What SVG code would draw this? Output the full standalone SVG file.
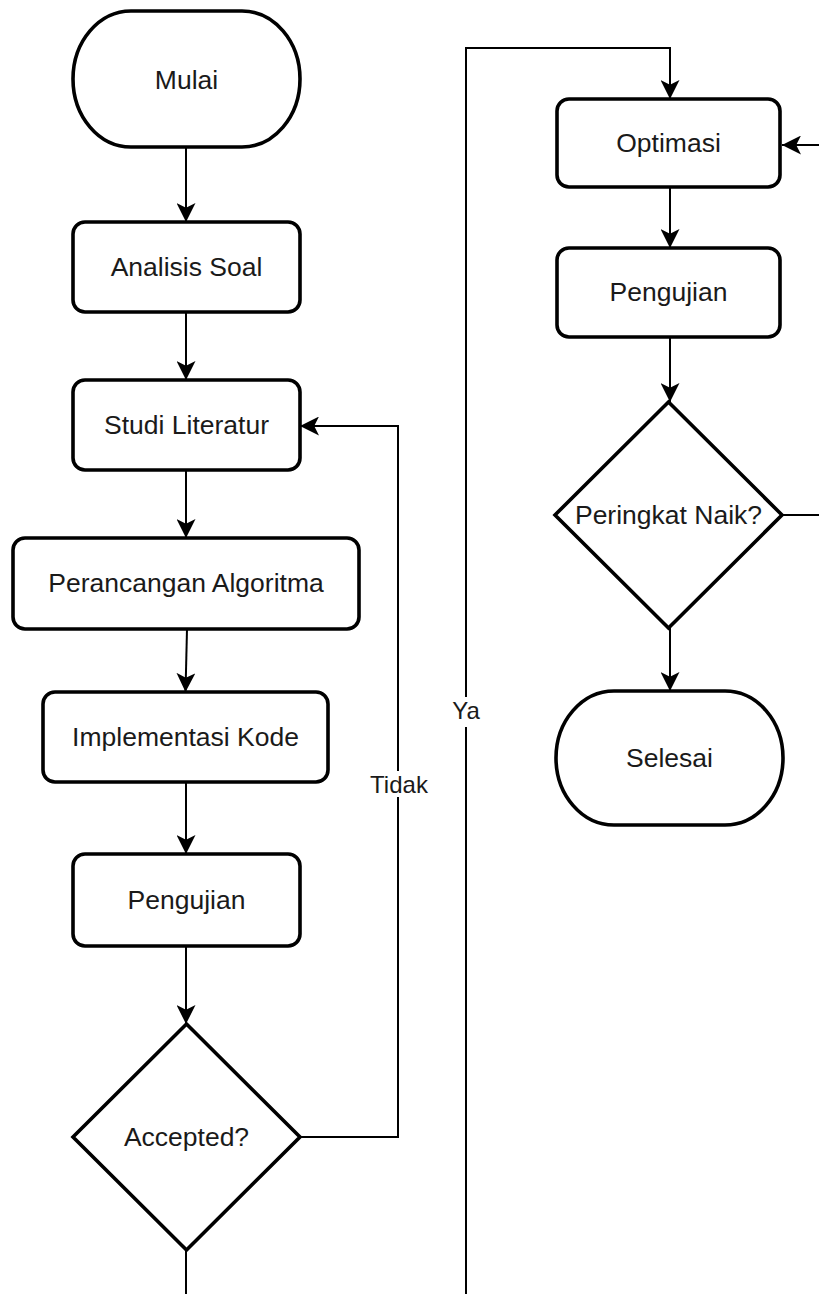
<svg xmlns="http://www.w3.org/2000/svg" width="819" height="1294" viewBox="0 0 819 1294">
  <style>
    .shape { fill: #ffffff; stroke: #000000; stroke-width: 3.6; }
    .edge { fill: none; stroke: #000000; stroke-width: 2; }
    .label { font-family: "Liberation Sans", Arial, sans-serif; font-size: 26.5px; fill: #1a1a1a; text-anchor: middle; }
    .elabel { font-family: "Liberation Sans", Arial, sans-serif; font-size: 24px; fill: #1a1a1a; text-anchor: middle; }
  </style>
  <defs>
    <marker id="arrow" markerUnits="userSpaceOnUse" viewBox="0 0 19 19" refX="19" refY="9.5" markerWidth="19" markerHeight="19" orient="auto">
      <path d="M0,0 L19,9.5 L0,19 L4.8,9.5 Z" fill="#000000"/>
    </marker>
  </defs>
  <rect width="819" height="1294" fill="#ffffff"/>

  <!-- connectors -->
  <g id="connectors">
    <path class="edge" d="M186,148 V222" marker-end="url(#arrow)"/>
    <path class="edge" d="M186,312 V380" marker-end="url(#arrow)"/>
    <path class="edge" d="M186,470 V538" marker-end="url(#arrow)"/>
    <path class="edge" d="M187,629 L185.5,692" marker-end="url(#arrow)"/>
    <path class="edge" d="M186,782 V854" marker-end="url(#arrow)"/>
    <path class="edge" d="M186,946 V1024" marker-end="url(#arrow)"/>
    <!-- Tidak: back to Studi Literatur -->
    <path class="edge" d="M300,1137 H398 V426 H300" marker-end="url(#arrow)"/>
    <!-- Ya: on to Optimasi -->
    <path class="edge" d="M186,1250 V1310 H466 V48 H670 V99" marker-end="url(#arrow)"/>
    <path class="edge" d="M670,187 V248" marker-end="url(#arrow)"/>
    <path class="edge" d="M670,337 V402" marker-end="url(#arrow)"/>
    <path class="edge" d="M670,628 V691" marker-end="url(#arrow)"/>
    <!-- Peringkat Naik? loop back to Optimasi -->
    <path class="edge" d="M782,515 H840 V145 H782" marker-end="url(#arrow)"/>
    <!-- edge labels -->
    <rect x="383" y="771" width="32" height="26" fill="#ffffff"/>
    <text class="elabel" x="399" y="793">Tidak</text>
    <rect x="451" y="697" width="30" height="30" fill="#ffffff"/>
    <text class="elabel" x="466" y="719">Ya</text>
  </g>

  <!-- left column -->
  <g id="mulai">
    <rect class="shape" x="73" y="11" width="227" height="136" rx="58" ry="68"/>
    <text class="label" x="186.5" y="89">Mulai</text>
  </g>
  <g id="analisis-soal">
    <rect class="shape" x="73" y="222" width="227" height="90" rx="12"/>
    <text class="label" x="186.5" y="276">Analisis Soal</text>
  </g>
  <g id="studi-literatur">
    <rect class="shape" x="73" y="380" width="227" height="90" rx="12"/>
    <text class="label" x="186.5" y="434">Studi Literatur</text>
  </g>
  <g id="perancangan-algoritma">
    <rect class="shape" x="13" y="538" width="346" height="91" rx="12"/>
    <text class="label" x="186" y="592">Perancangan Algoritma</text>
  </g>
  <g id="implementasi-kode">
    <rect class="shape" x="43" y="692" width="285" height="90" rx="12"/>
    <text class="label" x="185.5" y="746">Implementasi Kode</text>
  </g>
  <g id="pengujian-1">
    <rect class="shape" x="73" y="854" width="227" height="92" rx="12"/>
    <text class="label" x="186.5" y="909">Pengujian</text>
  </g>
  <g id="accepted">
    <polygon class="shape" points="186.5,1024 300,1137 186.5,1250 73,1137"/>
    <text class="label" x="186.5" y="1146">Accepted?</text>
  </g>

  <!-- right column -->
  <g id="optimasi">
    <rect class="shape" x="557" y="99" width="223" height="88" rx="12"/>
    <text class="label" x="668.5" y="152">Optimasi</text>
  </g>
  <g id="pengujian-2">
    <rect class="shape" x="557" y="248" width="223" height="89" rx="12"/>
    <text class="label" x="668.5" y="301">Pengujian</text>
  </g>
  <g id="peringkat-naik">
    <polygon class="shape" points="668.5,402 782,515 668.5,628 555,515"/>
    <text class="label" x="668.5" y="524">Peringkat Naik?</text>
  </g>
  <g id="selesai">
    <rect class="shape" x="556" y="691" width="227" height="134" rx="58" ry="67"/>
    <text class="label" x="669.5" y="767">Selesai</text>
  </g>
</svg>
